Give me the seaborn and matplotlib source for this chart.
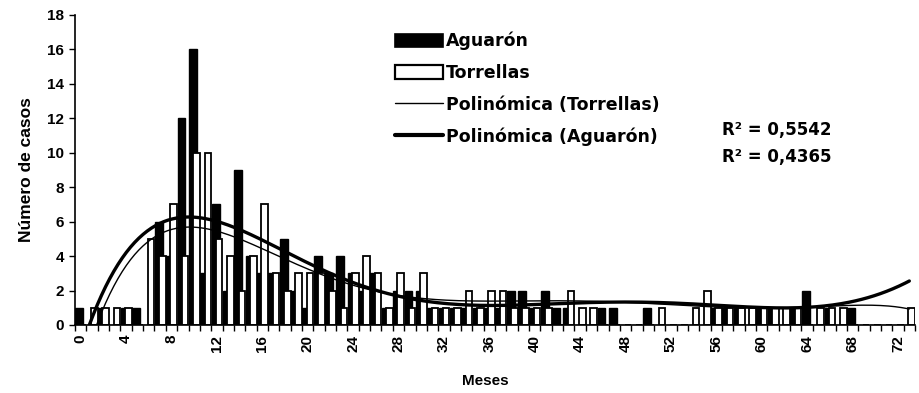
import numpy as np
import pandas as pd
import matplotlib
matplotlib.use("Agg")
import matplotlib.pyplot as plt
import seaborn as sns
from matplotlib.patches import Patch
from matplotlib.lines import Line2D

# ---- data ----
months = list(range(74))
aguaron = [1, 0, 1, 0, 1, 1, 0, 6, 4, 12,
           16, 3, 7, 2, 9, 4, 3, 3, 5, 2,
           1, 4, 3, 4, 3, 2, 3, 1, 2, 2,
           2, 1, 1, 1, 1, 1, 1, 1, 2, 2,
           1, 2, 1, 1, 0, 0, 1, 1, 0, 0,
           1, 0, 0, 0, 0, 0, 1, 1, 1, 0,
           1, 1, 0, 1, 2, 0, 1, 0, 1, 0,
           0, 0, 0, 0]
torrellas = [0, 1, 1, 1, 1, 0, 5, 4, 7, 4,
             10, 10, 5, 4, 2, 4, 7, 3, 2, 3,
             3, 3, 2, 1, 3, 4, 3, 1, 3, 1,
             3, 1, 1, 1, 2, 1, 2, 2, 1, 1,
             1, 1, 0, 2, 1, 1, 0, 0, 0, 0,
             0, 1, 0, 0, 1, 2, 1, 1, 1, 1,
             1, 1, 1, 1, 0, 1, 1, 1, 0, 0,
             0, 0, 0, 1]
tick_labels = ["0", "4", "8", "12", "16", "20", "24", "28", "32", "36",
               "40", "44", "48", "52", "56", "60", "64", "68", "72"]
series_names = ["Aguarón", "Torrellas", "Polinómica (Torrellas)", "Polinómica (Aguarón)"]
r2_texts = ["R² = 0,5542", "R² = 0,4365"]

sns.set_style("ticks")
plt.rcParams['font.family'] = ['Liberation Sans', 'DejaVu Sans']
plt.rcParams['font.weight'] = 'bold'
for k in ["text.color", "axes.labelcolor", "xtick.color", "ytick.color", "axes.edgecolor"]:
    plt.rcParams[k] = "black"

fig = plt.figure(figsize=(9.19, 3.93), dpi=100)
ax = fig.add_axes([75/919, 1-325/393, 840/919, 310/393])

df = pd.DataFrame({"m": months, "A": aguaron, "T": torrellas})
sns.barplot(x=df["m"] - 0.12, y=df["A"], native_scale=True, width=0.7,
            color="black", edgecolor="black", linewidth=1.0, saturation=1, ax=ax)
sns.barplot(x=df["m"] + 0.2, y=df["T"], native_scale=True, width=0.58,
            color="white", edgecolor="black", linewidth=1.3, saturation=1, ax=ax)

# polynomial trendlines (order 6); empty months (no cases) are skipped, as in the spreadsheet
xs = np.linspace(min(months), max(months), 400)
ma = df["A"] > 0
mt = df["T"] > 0
pa = np.polynomial.Polynomial.fit(df["m"][ma], df["A"][ma], 6)
pt = np.polynomial.Polynomial.fit(df["m"][mt], df["T"][mt], 6)
sns.lineplot(x=xs, y=pt(xs), color="black", linewidth=1.0, ax=ax)
sns.lineplot(x=xs, y=pa(xs), color="black", linewidth=2.4, ax=ax)

ax.set_xlim(-0.5, 73.5)
ax.set_ylim(0, 18)
ax.set_yticks(range(0, 19, 2))
ax.set_xticks([int(t) for t in tick_labels])
ax.set_xticklabels(tick_labels, rotation=90, fontsize=11, fontweight="bold")
ax.set_xticks(np.arange(-0.5, 74, 1), minor=True)
ax.tick_params(axis="x", which="major", length=0, pad=7)
ax.tick_params(axis="x", which="minor", length=4, width=1, color="black")
ax.tick_params(axis="y", length=4, width=1, labelsize=11, color="black", pad=4)
for lab in ax.get_yticklabels():
    lab.set_fontweight("bold")
sns.despine(ax=ax)
for s in ["left", "bottom"]:
    ax.spines[s].set_color("black")
    ax.spines[s].set_linewidth(1.2)

ax.set_xlabel("")
ax.set_ylabel("Número de casos", fontsize=12.5, fontweight="bold", labelpad=9)
fig.text(485/919, 1-381/393, "Meses", fontsize=11, fontweight="bold",
         ha="center", va="center")

handles = [Patch(facecolor="black", edgecolor="black", linewidth=1.2),
           Patch(facecolor="white", edgecolor="black", linewidth=1.6),
           Line2D([], [], color="black", linewidth=1.0),
           Line2D([], [], color="black", linewidth=3.0)]
fig.legend(handles, series_names, loc="upper left",
           bbox_to_anchor=(395/919, 1-32/393), frameon=False,
           prop={"family": "DejaVu Sans", "size": 12.5, "weight": "bold"},
           handlelength=2.75, handleheight=0.85, handletextpad=0.2,
           labelspacing=0.78, borderpad=0, borderaxespad=0)

fig.text(722/919, 1-130/393, r2_texts[0], fontsize=12, fontweight="bold",
         family="DejaVu Sans", va="center")
fig.text(722/919, 1-157/393, r2_texts[1], fontsize=12, fontweight="bold",
         family="DejaVu Sans", va="center")

fig.savefig("out.png", dpi=100)
